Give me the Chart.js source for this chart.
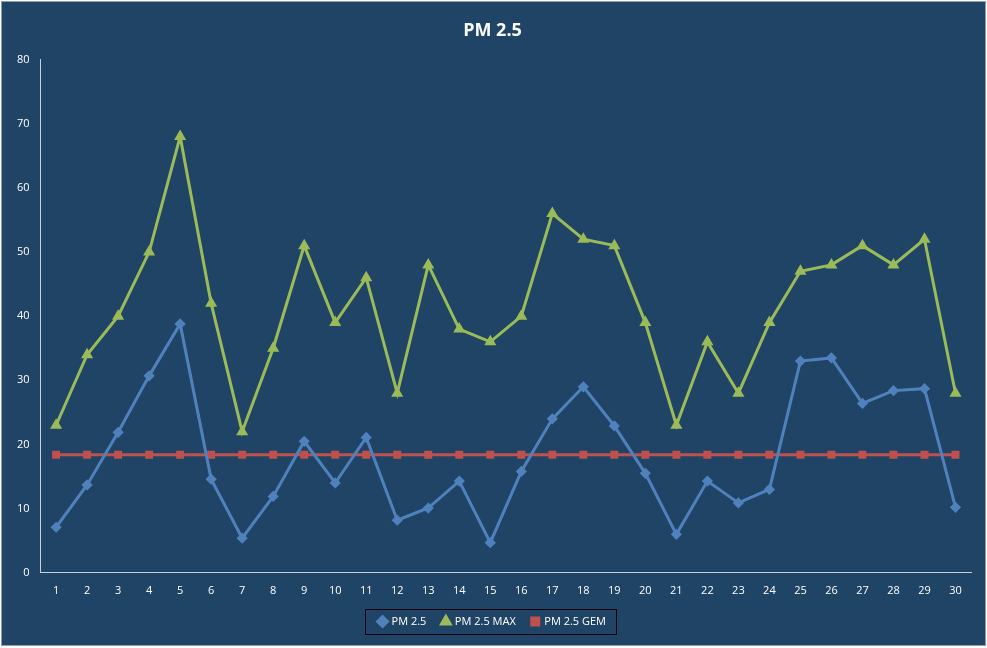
<!DOCTYPE html>
<html>
<head>
<meta charset="utf-8">
<script src="https://cdn.jsdelivr.net/npm/chart.js@4"></script>
<style>
  html, body { margin: 0; padding: 0; background: #fff; }
  #wrap { position: absolute; left: 1px; top: 1px; width: 983px; height: 643px; background: #1F4466; border: 1px solid #8aa0b8; }
</style>
</head>
<body>
<div id="wrap"><canvas id="chart"></canvas></div>
<script>
const days = ['1','2','3','4','5','6','7','8','9','10','11','12','13','14','15','16','17','18','19','20','21','22','23','24','25','26','27','28','29','30'];
const pm25 = [7.1, 13.7, 21.9, 30.7, 38.8, 14.6, 5.4, 11.9, 20.5, 14, 21.1, 8.2, 10.1, 14.3, 4.7, 15.8, 24, 29, 22.9, 15.5, 6, 14.3, 10.9, 13, 33, 33.5, 26.4, 28.4, 28.7, 10.2];
const pm25Max = [23, 34, 40, 50, 68, 42, 22, 35, 51, 39, 46, 28, 48, 38, 36, 40, 56, 52, 51, 39, 23, 36, 28, 39, 47, 48, 51, 48, 52, 28];
const pm25Gem = [18.4, 18.4, 18.4, 18.4, 18.4, 18.4, 18.4, 18.4, 18.4, 18.4, 18.4, 18.4, 18.4, 18.4, 18.4, 18.4, 18.4, 18.4, 18.4, 18.4, 18.4, 18.4, 18.4, 18.4, 18.4, 18.4, 18.4, 18.4, 18.4, 18.4];

// frame around the legend items only
const legendBox = {
    id: 'legendBox',
    afterDraw(chart) {
        const boxes = chart.legend.legendHitBoxes;
        if (!boxes || !boxes.length) return;
        const first = boxes[0], last = boxes[boxes.length - 1];
        const x0 = first.left - 14, x1 = last.left + last.width + 10;
        const y0 = first.top - 7, y1 = first.top + first.height + 7;
        const ctx = chart.ctx;
        ctx.save();
        ctx.strokeStyle = '#000';
        ctx.lineWidth = 1;
        ctx.strokeRect(Math.round(x0) + 0.5, Math.round(y0) + 0.5, Math.round(x1 - x0), Math.round(y1 - y0));
        ctx.restore();
    }
};

const ctx = document.getElementById('chart');
new Chart(ctx, {
    type: 'line',
    data: {
        labels: days,
        datasets: [{
            label: 'PM 2.5',
            data: pm25,
            borderColor: '#4F81BD',
            backgroundColor: '#4F81BD',
            pointStyle: 'rectRot',
            pointRadius: 3.5,
            borderWidth: 3
        }, {
            label: 'PM 2.5 MAX',
            data: pm25Max,
            borderColor: '#9BBB59',
            backgroundColor: '#9BBB59',
            pointStyle: 'triangle',
            pointRadius: 4,
            borderWidth: 3
        }, {
            label: 'PM 2.5 GEM',
            data: pm25Gem,
            borderColor: '#C0504D',
            backgroundColor: '#C0504D',
            pointStyle: 'rect',
            pointRadius: 3.5,
            borderWidth: 3
        }]
    },
    options: {
        responsive: true,
        maintainAspectRatio: false,
        animation: false,
        layout: { padding: { left: 12, right: 14, top: 0, bottom: 8 } },
        plugins: {
            title: {
                display: true,
                text: 'PM 2.5',
                color: '#fff',
                font: { family: 'Open Sans', size: 18, weight: 'bold' },
                padding: { top: 18, bottom: 18 }
            },
            legend: {
                position: 'bottom',
                labels: {
                    color: '#fff',
                    usePointStyle: true,
                    boxWidth: 7,
                    boxHeight: 7,
                    padding: 16,
                    font: { family: 'Open Sans', size: 11 }
                }
            }
        },
        scales: {
            x: {
                offset: true,
                grid: { display: false },
                border: { color: '#c8d0da' },
                ticks: { color: '#fff', font: { family: 'Open Sans', size: 11 }, maxRotation: 0 }
            },
            y: {
                min: 0,
                max: 80,
                grid: { display: false },
                border: { color: '#c8d0da' },
                ticks: { stepSize: 10, color: '#fff', font: { family: 'Open Sans', size: 11 } }
            }
        }
    },
    plugins: [legendBox]
});
</script>
</body>
</html>
